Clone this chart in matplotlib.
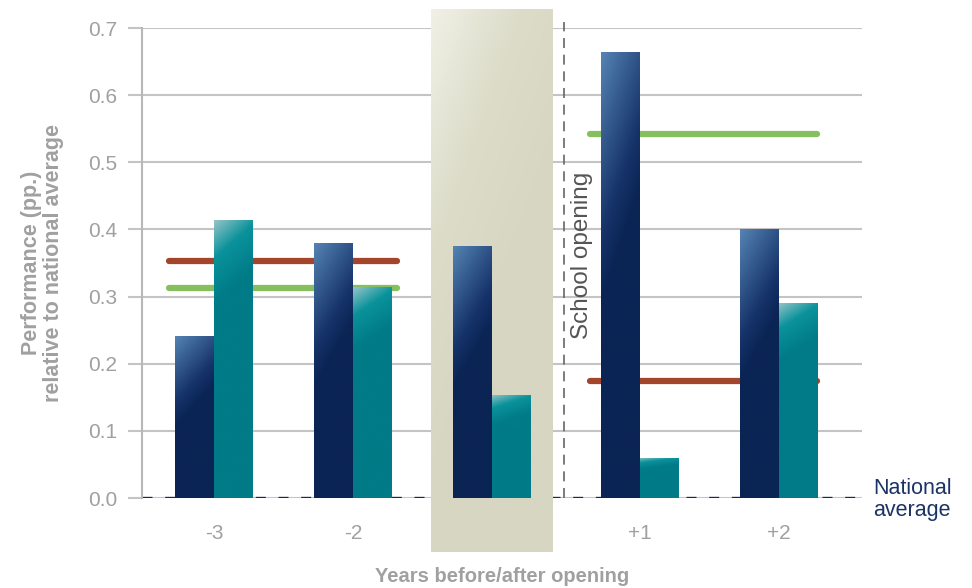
import numpy as np
import matplotlib.pyplot as plt
from matplotlib.colors import LinearSegmentedColormap
from matplotlib.transforms import blended_transform_factory

plt.rcParams['font.family'] = ['Liberation Sans', 'DejaVu Sans']

# data
years = ['-3', '-2', '', '+1', '+2']
school_vals = [0.242, 0.380, 0.376, 0.665, 0.401]
other_vals = [0.414, 0.314, 0.154, 0.060, 0.291]
red_levels = [0.353, 0.174]      # before / after opening
green_levels = [0.313, 0.542]

# layout
pos = np.arange(len(years)) + np.where(np.arange(len(years)) > 2, 0.065, 0.0)
w = 0.28
opening_x = 2.52
spans = [(pos[0] - 0.324, pos[1] + 0.317), (pos[3] - 0.36, pos[4] + 0.27)]

dark_cmap = LinearSegmentedColormap.from_list(
    'dark', [(0, '#5584b3'), (0.55, '#16336a'), (0.75, '#0a2454'), (1, '#0a2454')])
teal_cmap = LinearSegmentedColormap.from_list(
    'teal', [(0, '#93c4c7'), (0.45, '#0a929b'), (1, '#007b87')])
bg_cmap = LinearSegmentedColormap.from_list(
    'bg', [(0, '#f0f0e6'), (0.5, '#dcdcc9'), (1, '#d6d6c2')])
grey = '#a0a0a0'


def gradient(scale, tilt):
    s = np.linspace(0, 1, 200)[:, None]
    u = np.linspace(0, 1, 40)[None, :]
    return np.clip((s + tilt * u) / scale, 0, 1)


fig = plt.figure(figsize=(9.72, 5.88), dpi=100)
ax = fig.add_axes([142 / 972, 1 - 498 / 588, 720 / 972, 470 / 588])
ax.set_facecolor('none')

# highlighted year (behind bars, over grid)
bg = np.clip((np.linspace(0, 1, 200)[:, None] + np.linspace(0, 1, 40)[None, :] * 0.6) / 0.9, 0, 1)
im = ax.imshow(bg, cmap=bg_cmap, extent=[1.561, 2.432, -0.0805, 0.727],
               aspect='auto', interpolation='bilinear', zorder=1, vmin=0, vmax=1)
im.set_clip_on(False)

# zero line
ax.axhline(0, color='#c4c4c4', lw=2, zorder=0.6)
ax.axhline(0, color='#10285a', lw=2.4, dashes=(3.0, 3.8), zorder=0.7)

# reference lines
for (x0, x1), r, g in zip(spans, red_levels, green_levels):
    ax.plot([x0, x1], [r, r], color='#a3452b', lw=4.5, solid_capstyle='round', zorder=2)
    ax.plot([x0, x1], [g, g], color='#86bf5e', lw=4.5, solid_capstyle='round', zorder=2)

dark = ax.bar(pos - w / 2, school_vals, width=w, color='#0a2454', zorder=3)
teal = ax.bar(pos + w / 2, other_vals, width=w, color='#007b87', zorder=3)
for bars, cmap, sc, tilt in [(dark, dark_cmap, 0.75, 0.25), (teal, teal_cmap, 0.3, 0.12)]:
    for p in bars:
        x0, y0 = p.get_x(), p.get_y()
        gi = ax.imshow(gradient(sc, tilt), cmap=cmap, vmin=0, vmax=1,
                       extent=[x0, x0 + p.get_width(), y0, y0 + p.get_height()],
                       aspect='auto', interpolation='bilinear', zorder=3.5)
        gi.set_clip_path(p)

# school opening marker
ax.plot([opening_x, opening_x], [0, 0.709], color='#666666', lw=1.2,
        dashes=(6, 4), zorder=2.5, clip_on=False)
ax.text(opening_x + 0.13, 0.362, 'School opening', rotation=90, ha='center',
        va='center', fontsize=17.5, color='#555555', zorder=4)

ax.set_xlim(-0.518, 4.662)
ax.set_ylim(0, 0.7)
ax.set_yticks(np.arange(0, 0.71, 0.1))
ax.set_yticklabels([f'{v:.1f}' for v in np.arange(0, 0.71, 0.1)])
ax.set_xticks(pos)
ax.set_xticklabels(years)
ax.yaxis.grid(True, color='#c4c4c4', lw=1.5)
ax.set_axisbelow(True)

for s in ['top', 'right', 'bottom']:
    ax.spines[s].set_visible(False)
ax.spines['left'].set_color('#b8b8b8')
ax.spines['left'].set_linewidth(1.5)
ax.tick_params(axis='y', length=10, width=1.5, color='#c4c4c4', pad=8,
               labelsize=15, labelcolor=grey)
ax.tick_params(axis='x', length=0, pad=19, labelsize=15, labelcolor=grey)

ax.set_ylabel('Performance (pp.)\nrelative to national average', fontsize=15.5,
              fontweight='bold', color=grey, labelpad=17, linespacing=1.05)
ax.set_xlabel('Years before/after opening', fontsize=14.5, fontweight='bold',
              color=grey, labelpad=17)

tr = blended_transform_factory(ax.transAxes, ax.transData)
ax.text(1.016, -0.002, 'National\naverage', transform=tr, ha='left', va='center',
        fontsize=15.5, color='#1b3463', linespacing=1.05, clip_on=False)

fig.savefig('out.png', dpi=100)
